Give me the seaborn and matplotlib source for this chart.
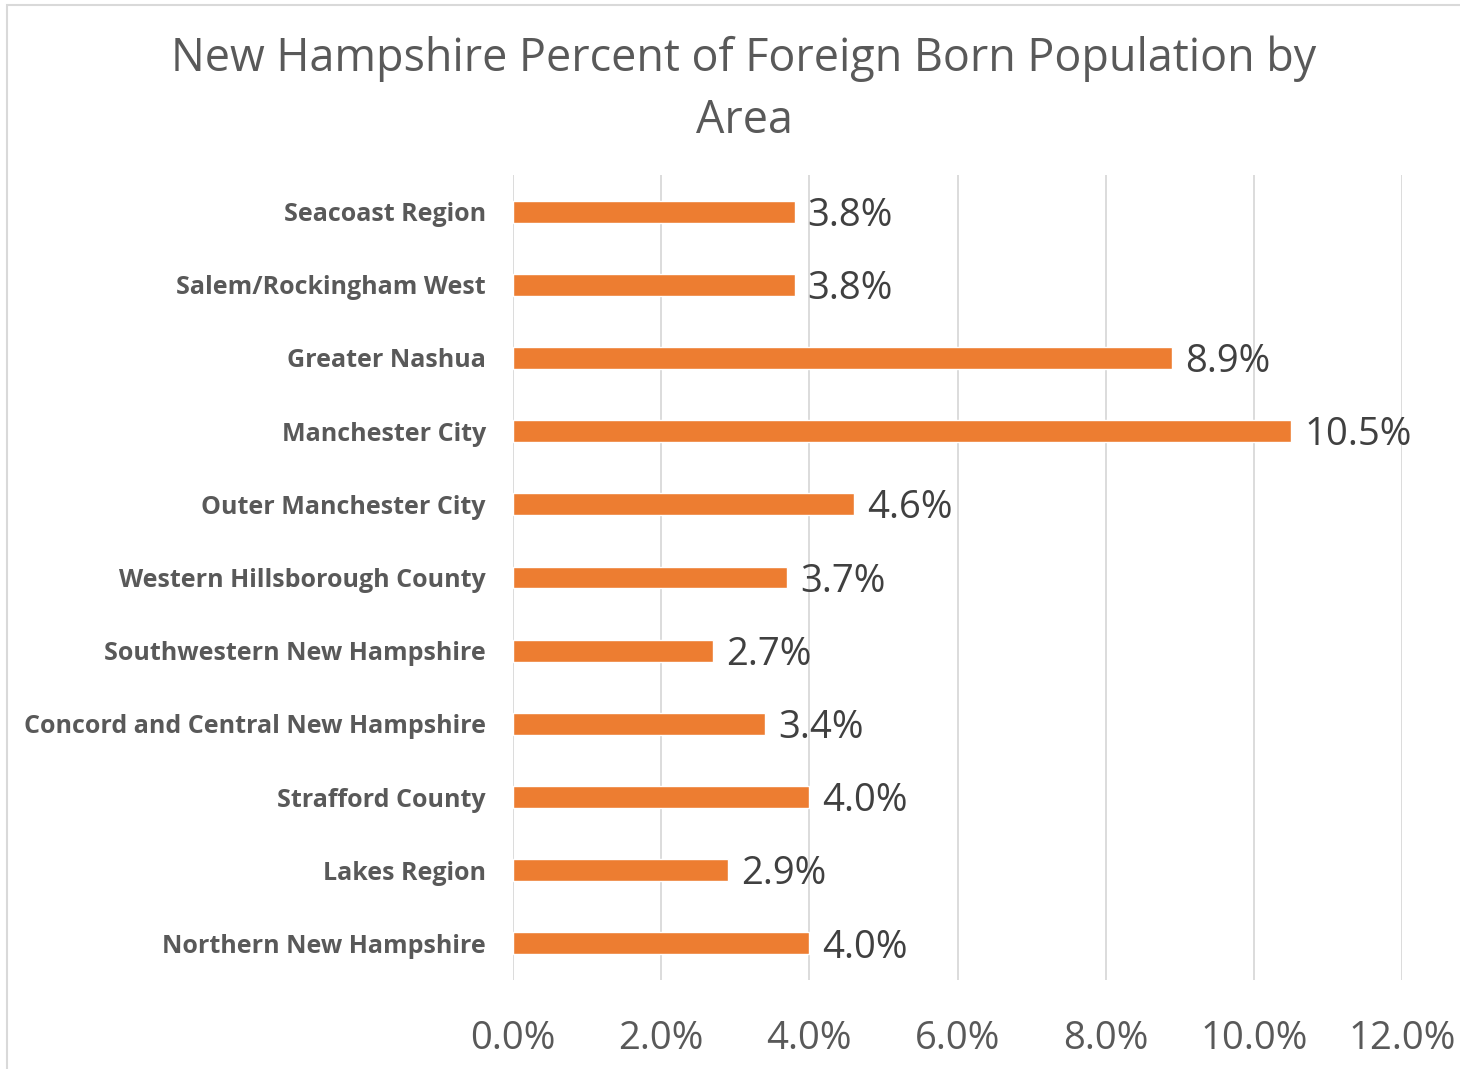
import matplotlib
matplotlib.use("Agg")
import matplotlib.pyplot as plt
import seaborn as sns
import pandas as pd
from matplotlib.patches import Rectangle
from matplotlib.ticker import FuncFormatter

categories = ["Seacoast Region", "Salem/Rockingham West", "Greater Nashua",
              "Manchester City", "Outer Manchester City", "Western Hillsborough County",
              "Southwestern New Hampshire", "Concord and Central New Hampshire",
              "Strafford County", "Lakes Region", "Northern New Hampshire"]
values = [3.8, 3.8, 8.9, 10.5, 4.6, 3.7, 2.7, 3.4, 4.0, 2.9, 4.0]
xticks = [0, 2, 4, 6, 8, 10, 12]

df = pd.DataFrame({"area": categories, "pct": values})

sns.set_theme(style="white")
plt.rcParams['font.family'] = ['Open Sans', 'DejaVu Sans']

fig = plt.figure(figsize=(14.6, 10.69), dpi=100)
ax = fig.add_axes([513/1460, 1-980/1069, (1402-513)/1460, (980-175)/1069])

sns.barplot(data=df, y="area", x="pct", color="#ED7D31", width=0.3,
            saturation=1, ax=ax, orient="h")

ax.set_xlim(0, 12)
ax.set_ylim(10.5, -0.5)
ax.set_xticks(xticks)
ax.xaxis.set_major_formatter(FuncFormatter(lambda v, p: f"{v:.1f}%"))
ax.grid(axis="x", color="#d9d9d9", linewidth=1.3)
ax.set_axisbelow(True)
for s in ax.spines.values():
    s.set_visible(False)
ax.tick_params(axis="x", length=0, pad=29, labelsize=27.5, labelcolor="#595959")
ax.tick_params(axis="y", length=0, pad=19.5, labelsize=18, labelcolor="#595959")
for lab in ax.get_yticklabels():
    lab.set_fontweight("bold")
ax.set_xlabel("")
ax.set_ylabel("")

for i, v in enumerate(values):
    ax.annotate(f"{v:.1f}%", (v, i), xytext=(9.5, -3), textcoords="offset points",
                va="center", ha="left", fontsize=27.5, color="#404040")

fig.text(744/1460, 1-90/1069, "New Hampshire Percent of Foreign Born Population by\nArea",
         ha="center", va="center", fontsize=32.3, color="#595959", linespacing=1.45)

fig.patches.append(Rectangle((7/1460, -0.01), 1.2, 1.01 - 5/1069, transform=fig.transFigure,
                             fill=False, edgecolor="#d9d9d9", linewidth=1.5))

fig.savefig("out.png", dpi=100)
